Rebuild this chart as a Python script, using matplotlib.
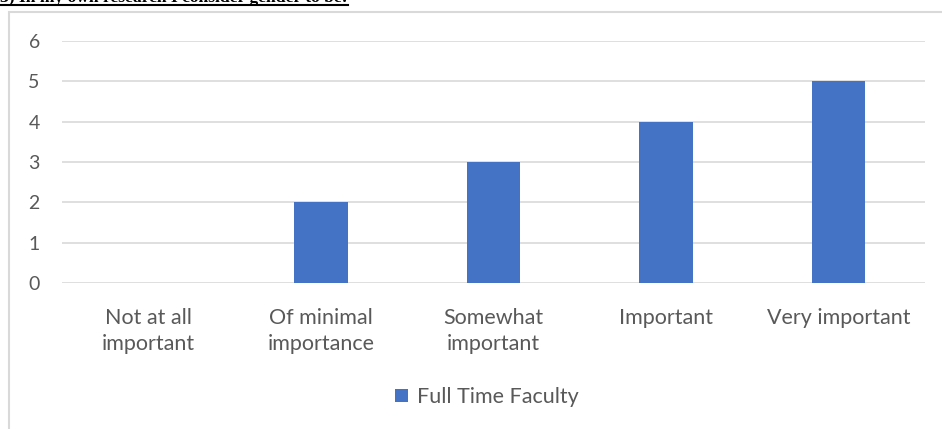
import matplotlib.pyplot as plt
from matplotlib.patches import Rectangle
from matplotlib.lines import Line2D

categories = ['Not at all\nimportant', 'Of minimal\nimportance', 'Somewhat\nimportant',
              'Important', 'Very important']
faculty = [0, 2, 3, 4, 5]
yticks = [0, 1, 2, 3, 4, 5, 6]

plt.rcParams['font.family'] = ['Lato', 'DejaVu Sans']
grey = '#595959'

fig = plt.figure(figsize=[9.42, 4.29], dpi=100)

# chart frame
fig.patches.append(Rectangle((9 / 942, -0.1), 1.2, 1 - 12 / 429 + 0.1,
                             transform=fig.transFigure, fill=False,
                             edgecolor='#D9D9D9', linewidth=1.5))

# heading, mostly above the top edge
title = fig.text(0.0, 1 - 2 / 429, '3) In my own research I consider gender to be:',
                 family='Liberation Serif', weight='bold', fontsize=12.6,
                 va='baseline', ha='left')
fig.canvas.draw()
bb = title.get_window_extent().transformed(fig.transFigure.inverted())
fig.lines.append(Line2D([bb.x0, bb.x1], [1 - 4.5 / 429] * 2, transform=fig.transFigure,
                        color='black', linewidth=1.5))

ax = fig.add_axes([62 / 942, 1 - 283 / 429, 863 / 942, 242 / 429])
x = range(len(categories))
ax.bar(x, faculty, width=0.31, color='#4472C4', label='Full Time Faculty', zorder=3)
ax.set_xlim(-0.5, 4.5)
ax.set_ylim(0, 6)
ax.set_yticks(yticks)
ax.set_xticks(list(x))
ax.set_xticklabels(categories, linespacing=1.4)
ax.grid(axis='y', color='#D9D9D9', linewidth=1.2, zorder=0)
for s in ax.spines.values():
    s.set_visible(False)
ax.tick_params(length=0, colors=grey)
ax.tick_params(axis='y', pad=16, labelsize=14)
ax.tick_params(axis='x', pad=18, labelsize=15.5)

fig.legend(loc='center', bbox_to_anchor=(487 / 942, 1 - 397 / 429), frameon=False,
           fontsize=15.5, labelcolor=grey, handlelength=0.6, handleheight=0.6,
           handletextpad=0.4)

fig.savefig('out.png', dpi=100)
